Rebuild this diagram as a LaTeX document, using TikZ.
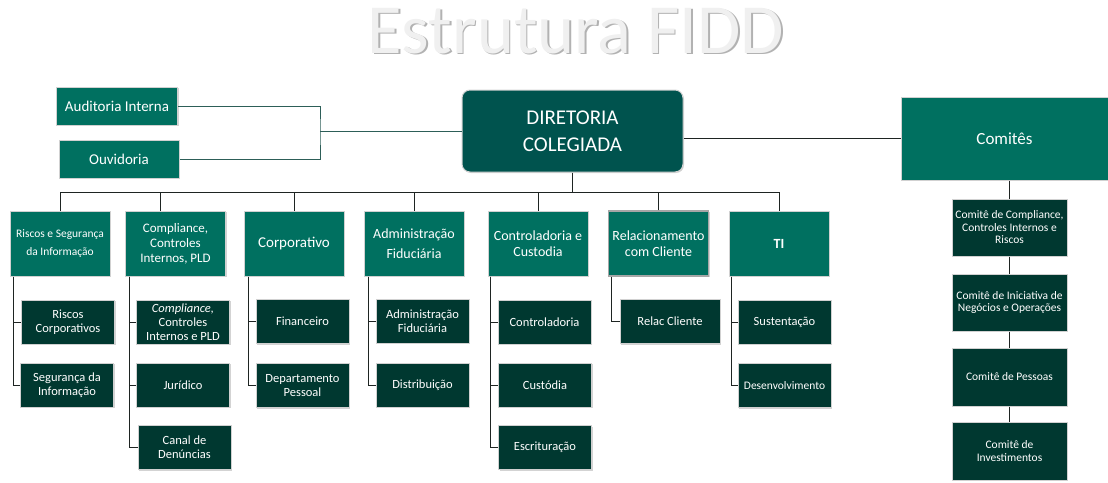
\documentclass[tikz,border=0pt]{standalone}
\usepackage{fontspec}
\setmainfont{Carlito}
\usetikzlibrary{positioning,shadows}
\definecolor{fiddboard}{RGB}{0,83,78}
\definecolor{fiddtop}{RGB}{0,112,96}
\definecolor{fiddsub}{RGB}{0,56,48}
\definecolor{fiddline}{RGB}{30,36,34}
\definecolor{fiddside}{RGB}{45,94,88}
\tikzset{
        box/.style={align=center,inner sep=1pt,text=white,draw=white!82!black,line width=1pt,
                drop shadow={shadow xshift=1pt,shadow yshift=-1pt,opacity=.35}},
        % Board
        box_board/.style={box, fill=fiddboard, rounded corners=8pt, minimum width=221pt, minimum height=82pt, font=\fontsize{21}{27}\selectfont},
        % Side units and departments
        box_top/.style={box, fill=fiddtop, minimum width=100pt, minimum height=65pt, font=\fontsize{14}{16}\selectfont},
        % Sub units
        box_sub/.style={box, fill=fiddsub, minimum width=93pt, minimum height=44pt, font=\fontsize{12.5}{14}\selectfont},
        % Committees
        box_committee/.style={box, fill=fiddsub, minimum width=115pt, minimum height=57pt, font=\fontsize{11.5}{12.5}\selectfont},
        link/.style={draw=fiddline, line width=1pt},
        title_text/.style={font=\fontsize{70.5}{72}\selectfont, inner sep=0pt}
}

\begin{document}
\begin{tikzpicture}[x=1pt, y=-1pt]
    \useasboundingbox (0,0) rectangle (1108,482);

    \node[title_text, text=gray!60] (title_shadow) at (577.5,32.5) {Estrutura FIDD};
    \node[title_text, text=gray!12] (title) at (576,31) {Estrutura FIDD};

    \node[box_board] (dir) at (572.5,131) {DIRETORIA\\COLEGIADA};
    \node[box_top, minimum width=121pt, minimum height=38pt, font=\fontsize{15}{18}\selectfont] (aud) at (117,106) {Auditoria Interna};
    \node[box_top, minimum width=120pt, minimum height=38pt, font=\fontsize{15}{18}\selectfont] (ouv) at (119,159) {Ouvidoria};
    \node[box_top, minimum width=207pt, minimum height=83pt, font=\fontsize{17}{20}\selectfont] (com) at (1004.5,138.5) {Comitês};

    % Departments
    \node[box_top, font=\fontsize{11.5}{18}\selectfont] (t1) at (60,243.5) {Riscos e Segurança\\da Informação};
    \node[box_top, font=\fontsize{13}{15}\selectfont] (t2) at (175.5,243.5) {Compliance,\\Controles\\Internos, PLD};
    \node[box_top, font=\fontsize{15}{18}\selectfont] (t3) at (294,243.5) {Corporativo};
    \node[box_top, font=\fontsize{14}{20}\selectfont] (t4) at (414,243.5) {Administração\\Fiduciária};
    \node[box_top, font=\fontsize{14}{15.5}\selectfont] (t5) at (538,243.5) {Controladoria e\\Custodia};
    \node[box_top, font=\fontsize{14}{15.5}\selectfont, draw=gray!70, line width=1.5pt] (t6) at (658.5,243.5) {Relacionamento\\com Cliente};
    \node[box_top, font=\bfseries\fontsize{14}{16}\selectfont] (t7) at (779,243.5) {TI};

    % Sub units
    \node[box_sub] (s11) at (68,322) {Riscos\\Corporativos};
    \node[box_sub] (s12) at (67,385) {Segurança da\\Informação};
    \node[box_sub] (s21) at (183,322) {\textit{Compliance,}\\Controles\\Internos e PLD};
    \node[box_sub] (s22) at (183,385) {Jurídico};
    \node[box_sub] (s23) at (184.5,447.5) {Canal de\\Denúncias};
    \node[box_sub] (s31) at (302.5,321.5) {Financeiro};
    \node[box_sub] (s32) at (302.5,385.5) {Departamento\\Pessoal};
    \node[box_sub] (s41) at (422.5,321) {Administração\\Fiduciária};
    \node[box_sub] (s42) at (422.5,385) {Distribuição};
    \node[box_sub] (s51) at (544.5,322) {Controladoria};
    \node[box_sub] (s52) at (545,385) {Custódia};
    \node[box_sub] (s53) at (545,447.5) {Escrituração};
    \node[box_sub, minimum width=100pt] (s61) at (670,321.5) {Relac Cliente};
    \node[box_sub] (s71) at (784.5,322) {Sustentação};
    \node[box_sub, font=\fontsize{11.5}{14}\selectfont] (s72) at (784.5,385.5) {Desenvolvimento};

    % Committees
    \node[box_committee] (c1) at (1009.5,227.5) {Comitê de Compliance,\\Controles Internos e\\Riscos};
    \node[box_committee] (c2) at (1009.5,302.5) {Comitê de Iniciativa de\\Negócios e Operações};
    \node[box_committee, minimum height=58pt] (c3) at (1009.5,377) {Comitê de Pessoas};
    \node[box_committee, minimum height=58pt] (c4) at (1009.5,451) {Comitê de\\Investimentos};

    % Connectors
    \coordinate (join) at (320,131);
    \coordinate (bus) at (0,192);
    \draw[link, draw=fiddside] (aud.east) -| (join) |- (ouv.east);
    \draw[link, draw=fiddside] (join) -- (dir.west);
    \draw[link] (dir.east |- com.west) -- (com.west);
    \draw[link] (dir.south) -- (dir.south |- bus);
    \draw[link] (t1.north |- bus) -- (t7.north |- bus);
    \draw[link] (t1.north) -- (t1.north |- bus);
    \draw[link] ([xshift=-15.5pt]t2.north) -- ([xshift=-15.5pt]t2.north |- bus);
    \draw[link] (t3.north) -- (t3.north |- bus);
    \draw[link] (t4.north) -- (t4.north |- bus);
    \draw[link] (t5.north) -- (t5.north |- bus);
    \draw[link] (t6.north) -- (t6.north |- bus);
    \draw[link] (t7.north) -- (t7.north |- bus);

    \draw[link] ([xshift=4pt]t1.south west) |- (s11.west);
    \draw[link] ([xshift=4pt]t1.south west) |- (s12.west);
    \draw[link] ([xshift=4pt]t2.south west) |- (s21.west);
    \draw[link] ([xshift=4pt]t2.south west) |- (s22.west);
    \draw[link] ([xshift=4pt]t2.south west) |- (s23.west);
    \draw[link] ([xshift=5pt]t3.south west) |- (s31.west);
    \draw[link] ([xshift=5pt]t3.south west) |- (s32.west);
    \draw[link] ([xshift=5pt]t4.south west) |- (s41.west);
    \draw[link] ([xshift=5pt]t4.south west) |- (s42.west);
    \draw[link] ([xshift=3pt]t5.south west) |- (s51.west);
    \draw[link] ([xshift=3pt]t5.south west) |- (s52.west);
    \draw[link] ([xshift=3pt]t5.south west) |- (s53.west);
    \draw[link] ([xshift=4pt]t6.south west) |- (s61.west);
    \draw[link] ([xshift=3pt]t7.south west) |- (s71.west);
    \draw[link] ([xshift=3pt]t7.south west) |- (s72.west);

    \draw[link] (com.south -| c1.north) -- (c1.north);
    \draw[link] (c1.south) -- (c2.north);
    \draw[link] (c2.south) -- (c3.north);
    \draw[link] (c3.south) -- (c4.north);
\end{tikzpicture}
\end{document}
